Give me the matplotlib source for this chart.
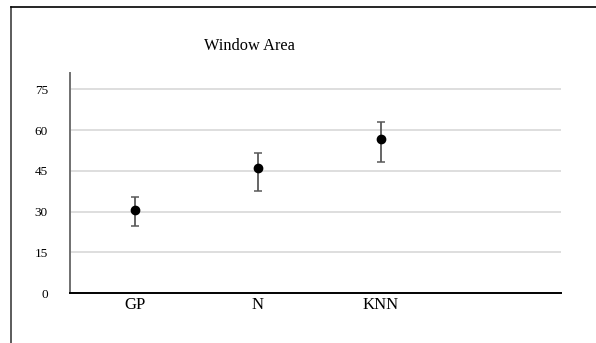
import matplotlib
matplotlib.use("Agg")
import matplotlib.pyplot as plt
from matplotlib.lines import Line2D
import numpy as np

# values
methods = ["GP", "N", "KNN"]
means = [30.5, 46.2, 56.8]
upper = [35.2, 51.4, 62.8]
lower = [24.5, 37.6, 48.3]
yticks = [0, 15, 30, 45, 60, 75]

plt.rcParams['font.family'] = ['Liberation Serif', 'DejaVu Serif']

W, H = 596, 343
fig = plt.figure(figsize=(W / 100, H / 100), dpi=100)
ax = fig.add_axes([70 / W, 1 - 293 / H, (561 - 70) / W, (293 - 73) / H])

x = np.arange(1, len(methods) + 1)
m = np.array(means)
err = [m - np.array(lower), np.array(upper) - m]
ax.errorbar(x, m, yerr=err, fmt='none', ecolor='#595959', elinewidth=1.3,
            capsize=3, capthick=1.1, zorder=3)
ax.plot(x, m, 'o', color='black', ms=6, zorder=4)

ax.set_xlim(0.47, 4.47)
ax.set_ylim(0, 81)
ax.set_yticks(yticks)
ax.set_yticklabels([str(v) for v in yticks], fontsize=9.5)
ax.set_xticks(x)
ax.set_xticklabels(methods, fontsize=12)
ax.tick_params(axis='y', length=0, pad=16)
ax.tick_params(axis='x', length=0, pad=3)

ax.grid(axis='y', color='#d4d4d4', lw=1.1)
ax.set_axisbelow(True)
for s in ['top', 'right']:
    ax.spines[s].set_visible(False)
ax.spines['left'].set_color('#707070')
ax.spines['left'].set_linewidth(1.4)
ax.spines['bottom'].set_color('black')
ax.spines['bottom'].set_linewidth(1.4)

fig.text(249 / W, 1 - 46 / H, "Window Area", ha='center', va='center', fontsize=11.8)

# outer frame (left and top edges only visible)
fig.add_artist(Line2D([11 / W, 11 / W], [0, 1 - 7 / H], transform=fig.transFigure,
                      color='#404040', lw=1.2))
fig.add_artist(Line2D([11 / W, 1], [1 - 7 / H, 1 - 7 / H], transform=fig.transFigure,
                      color='black', lw=1.2))

fig.savefig("out.png", dpi=100)
